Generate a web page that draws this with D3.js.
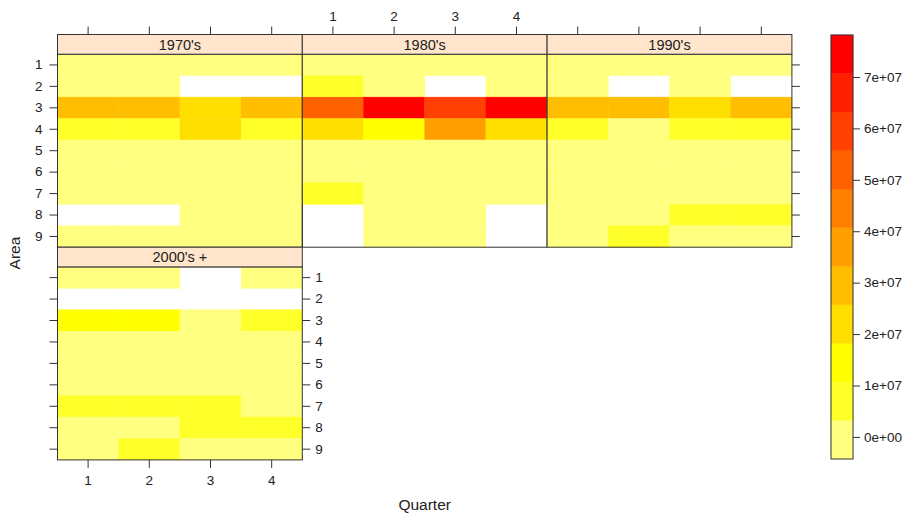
<!DOCTYPE html>
<html><head><meta charset="utf-8">
<script src="https://cdn.jsdelivr.net/npm/d3@7/dist/d3.min.js"></script>
<style>
body{margin:0;background:#fff;}
text{font-family:"Liberation Sans",Arial,Helvetica,sans-serif;fill:#222;}
</style>
</head><body>
<svg id="chart" width="910" height="514"></svg>
<script>
// ---------------- data ----------------
const decades = ["1970's", "1980's", "1990's", "2000's +"];
const quarters = [1, 2, 3, 4];
const areas = [1, 2, 3, 4, 5, 6, 7, 8, 9];
// rows = areas 1..9, columns = quarters 1..4, null = missing
const v1970 = [
  [1.8e6, 1.5e6, 0.9e6, 1.2e6],
  [2.1e6, 1.7e6, null, null],
  [2.9e7, 3.0e7, 2.2e7, 2.8e7],
  [8.8e6, 9.2e6, 2.3e7, 8.6e6],
  [1.6e6, 1.9e6, 1.4e6, 1.3e6],
  [1.1e6, 1.3e6, 1.2e6, 1.0e6],
  [2.3e6, 2.0e6, 1.7e6, 1.5e6],
  [null, null, 1.1e6, 0.9e6],
  [1.4e6, 1.2e6, 1.0e6, 1.1e6]
];
const v1980 = [
  [1.9e6, 2.2e6, 1.6e6, 1.8e6],
  [7.5e6, 2.4e6, null, 2.0e6],
  [5.2e7, 7.2e7, 5.9e7, 7.31e7],
  [2.45e7, 1.5e7, 3.6e7, 2.2e7],
  [1.7e6, 2.1e6, 1.9e6, 1.5e6],
  [1.4e6, 1.6e6, 1.3e6, 1.2e6],
  [6.8e6, 2.3e6, 1.8e6, 1.6e6],
  [null, 1.4e6, 1.2e6, null],
  [null, 1.1e6, 0.95e6, null]
];
const v1990 = [
  [1.5e6, 1.3e6, 1.7e6, 1.4e6],
  [2.0e6, null, 1.6e6, null],
  [2.9e7, 3.0e7, 2.3e7, 2.9e7],
  [7.0e6, 2.2e6, 7.8e6, 8.2e6],
  [1.8e6, 1.6e6, 1.5e6, 1.7e6],
  [1.2e6, 1.4e6, 1.3e6, 1.1e6],
  [1.6e6, 1.9e6, 1.4e6, 1.3e6],
  [2.2e6, 2.6e6, 6.5e6, 7.0e6],
  [1.0e6, 6.0e6, 1.3e6, 1.2e6]
];
const v2000 = [
  [1.2e6, 1.0e6, null, 0.9e6],
  [null, null, null, null],
  [1.3e7, 1.25e7, 2.4e6, 8.5e6],
  [1.6e6, 1.4e6, 1.5e6, 1.3e6],
  [1.1e6, 1.3e6, 1.2e6, 1.0e6],
  [0.9e6, 1.1e6, 1.0e6, 0.85e6],
  [6.0e6, 6.5e6, 5.5e6, 2.0e6],
  [1.5e6, 2.5e6, 7.0e6, 6.8e6],
  [0.77e6, 5.8e6, 1.6e6, 1.4e6]
];
const decadeValues = [v1970, v1980, v1990, v2000];
const keyTicks = [0, 1e7, 2e7, 3e7, 4e7, 5e7, 6e7, 7e7];
const keyTickLabels = ["0e+00", "1e+07", "2e+07", "3e+07", "4e+07", "5e+07", "6e+07", "7e+07"];
const xLabel = "Quarter";
const yLabel = "Area";

// ---------------- styling / layout ----------------
const palette = ["#FFFF80", "#FFFF2A", "#FFFF00", "#FFDF00", "#FFBF00", "#FF9F00",
                 "#FF8000", "#FF6000", "#FF4000", "#FF2000", "#FF0000"];
const L = 57.5, T = 34.5, PW = 244.8, PH = 193, SH = 19.7;
const lineCol = "#333";
const axisFont = 13.5;

const svg = d3.select("#chart");

// colour levels (lattice-style: data range extended by 7%, 11 equal intervals)
const all = decadeValues.flat(2).filter(v => v != null);
const [mn, mx] = d3.extent(all);
const pad = 0.07 * (mx - mn);
const lo = mn - pad, hi = mx + pad;
const nb = palette.length;
const at = d3.range(nb + 1).map(i => lo + i * (hi - lo) / nb);
const color = d3.scaleThreshold().domain(at.slice(1, -1)).range(palette);

const xs = d3.scaleBand().domain(quarters).range([0, PW]).padding(0);
const ys = d3.scaleBand().domain(areas).range([0, PH]).padding(0);

function styleAxis(g) {
  g.select(".domain").remove();
  g.selectAll(".tick line").attr("stroke", lineCol);
  g.selectAll(".tick text").attr("font-size", axisFont)
    .attr("font-family", '"Liberation Sans",Arial,sans-serif').attr("fill", "#222");
}

decades.forEach((dec, i) => {
  const col = i % 3, row = Math.floor(i / 3);
  const x0 = L + col * PW;
  const sy = T + row * (SH + PH);
  const py = sy + SH;
  const vals = decadeValues[i];
  const g = svg.append("g");
  const cells = [];
  areas.forEach((a, r) => quarters.forEach((q, c) => {
    const v = vals[r][c];
    if (v != null) cells.push({a, q, v});
  }));
  g.selectAll("rect.cell").data(cells).join("rect")
    .attr("class", "cell")
    .attr("x", d => x0 + xs(d.q)).attr("y", d => py + ys(d.a))
    .attr("width", xs.bandwidth()).attr("height", ys.bandwidth())
    .attr("fill", d => color(d.v)).attr("stroke", d => color(d.v)).attr("stroke-width", 0.4);
  // panel border
  g.append("rect").attr("x", x0).attr("y", py).attr("width", PW).attr("height", PH)
    .attr("fill", "none").attr("stroke", lineCol).attr("stroke-width", 1);
  // strip
  g.append("rect").attr("x", x0).attr("y", sy).attr("width", PW).attr("height", SH)
    .attr("fill", "#FFE5CC").attr("stroke", lineCol).attr("stroke-width", 1);
  g.append("text").attr("x", x0 + PW / 2).attr("y", sy + SH / 2).attr("dy", "0.36em")
    .attr("text-anchor", "middle").attr("font-size", 14.5).text(dec);

  // axes
  if (row === 0) {
    const top = d3.axisTop(xs).tickSize(8).tickPadding(6);
    if (col !== 1) top.tickFormat("");
    svg.append("g").attr("transform", `translate(${x0},${sy})`).call(top).call(styleAxis);
  }
  if (i === 3) {
    svg.append("g").attr("transform", `translate(${x0},${py + PH})`)
      .call(d3.axisBottom(xs).tickSize(8).tickPadding(7.5)).call(styleAxis);
  }
  if (col === 0) {
    const left = d3.axisLeft(ys).tickSize(8).tickPadding(7);
    if (row !== 0) left.tickFormat("");
    svg.append("g").attr("transform", `translate(${x0},${py})`).call(left).call(styleAxis);
  }
  if (col === 2 || i === 3) {
    const right = d3.axisRight(ys).tickSize(8).tickPadding(5);
    if (row === 0) right.tickFormat("");
    svg.append("g").attr("transform", `translate(${x0 + PW},${py})`).call(right).call(styleAxis);
  }
});

// axis titles
svg.append("text").attr("x", L + 1.5 * PW).attr("y", 510).attr("text-anchor", "middle")
  .attr("font-size", 15.5).text(xLabel);
svg.append("text").attr("transform", "translate(14,253) rotate(-90)").attr("dy", "0.36em")
  .attr("text-anchor", "middle").attr("font-size", 15.5).text(yLabel);

// colour key
const KX = 831, KW = 22, KT = 35, KB = 459;
const ks = d3.scaleLinear().domain([lo, hi]).range([KB, KT]);
const kg = svg.append("g");
kg.selectAll("rect.band").data(d3.range(nb)).join("rect").attr("class", "band")
  .attr("x", KX).attr("width", KW)
  .attr("y", i => ks(at[i + 1])).attr("height", i => ks(at[i]) - ks(at[i + 1]))
  .attr("fill", i => palette[i]).attr("stroke", i => palette[i]).attr("stroke-width", 0.4);
kg.append("rect").attr("x", KX).attr("y", KT).attr("width", KW).attr("height", KB - KT)
  .attr("fill", "none").attr("stroke", lineCol);
const kax = d3.axisRight(ks).tickValues(keyTicks).tickSize(7).tickPadding(4)
  .tickFormat((d, i) => keyTickLabels[i]);
svg.append("g").attr("transform", `translate(${KX + KW},0)`).call(kax).call(styleAxis);
</script>
</body></html>
